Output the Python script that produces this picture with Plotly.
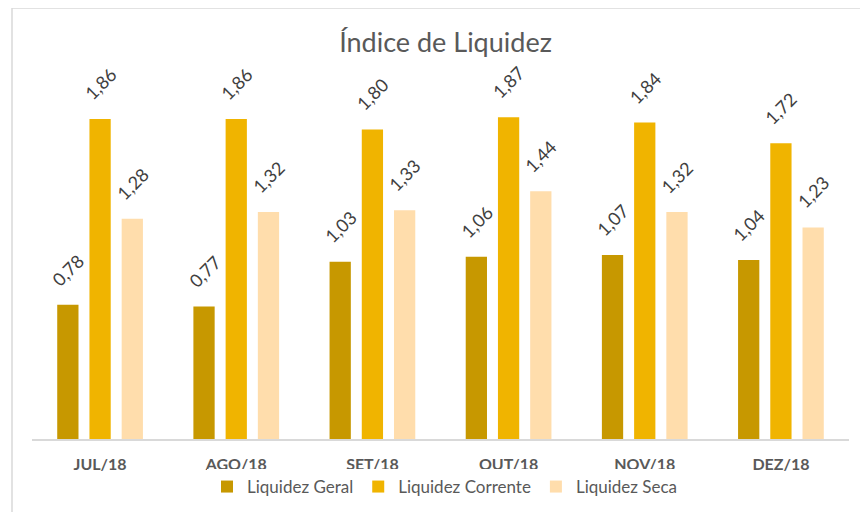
import plotly.graph_objects as go

categories = ["JUL/18", "AGO/18", "SET/18", "OUT/18", "NOV/18", "DEZ/18"]
liq_geral = [0.78, 0.77, 1.03, 1.06, 1.07, 1.04]
liq_corrente = [1.86, 1.86, 1.80, 1.87, 1.84, 1.72]
liq_seca = [1.28, 1.32, 1.33, 1.44, 1.32, 1.23]

series = [
    ("Liquidez Geral", liq_geral, "rgb(199,152,0)"),
    ("Liquidez Corrente", liq_corrente, "rgb(240,180,0)"),
    ("Liquidez Seca", liq_seca, "rgb(255,221,172)"),
]

FONT = "Lato, Open Sans, sans-serif"

# page body adds an 8px margin, so the figure is laid out 8px smaller
W, H = 860, 504
L, R, T, B = 24, 19, 87, 73
pw, ph = W - L - R, H - T - B
BARGAP, GROUPGAP = 0.29, 0.34
slot = pw / len(categories) * (1 - BARGAP) / len(series)

def px_to_paper(x, y):
    return (x - L) / pw, (H - B - y) / ph

fig = go.Figure()
annotations = []
for i, (name, vals, col) in enumerate(series):
    fig.add_trace(go.Bar(
        x=categories, y=vals, name=name,
        marker=dict(color=col, line=dict(width=0)),
        cliponaxis=False,
    ))
    for c, v in zip(categories, vals):
        annotations.append(dict(
            x=c, y=v, xref="x", yref="y",
            text=f"{v:.2f}".replace(".", ","),
            showarrow=False, textangle=-45,
            xanchor="center", yanchor="bottom",
            xshift=(i - 1) * slot, yshift=12,
            font=dict(family=FONT, size=18, color="#404040"),
        ))

x0, y1 = px_to_paper(4, 0)
x1, y0 = px_to_paper(870, 510)

fig.update_layout(
    width=W, height=H,
    margin=dict(l=L, r=R, t=T, b=B, autoexpand=False),
    paper_bgcolor="white", plot_bgcolor="white",
    barmode="group", bargap=BARGAP, bargroupgap=GROUPGAP,
    title=dict(text="Índice de Liquidez", x=437.5 / W, xanchor="center",
               y=1 - 35 / H, yanchor="middle",
               font=dict(family=FONT, size=27, color="#595959")),
    font=dict(family=FONT),
    showlegend=True,
    legend=dict(orientation="h", x=(437 - L) / pw, xanchor="center",
                y=px_to_paper(0, 479)[1], yanchor="middle",
                font=dict(family=FONT, size=17, color="#595959"),
                itemwidth=30, tracegroupgap=0),
    xaxis=dict(showline=True, linecolor="#D9D9D9", linewidth=1.5,
               ticks="", ticklabelstandoff=10,
               tickfont=dict(family=FONT, size=16, color="#595959", weight="bold")),
    yaxis=dict(range=[0, 2.0], visible=False, showgrid=False),
    annotations=annotations,
    shapes=[dict(type="rect", xref="paper", yref="paper",
                 x0=x0, x1=x1, y0=y0, y1=y1,
                 line=dict(color="#D9D9D9", width=1.5), layer="below")],
)

fig.write_html("out.html")
